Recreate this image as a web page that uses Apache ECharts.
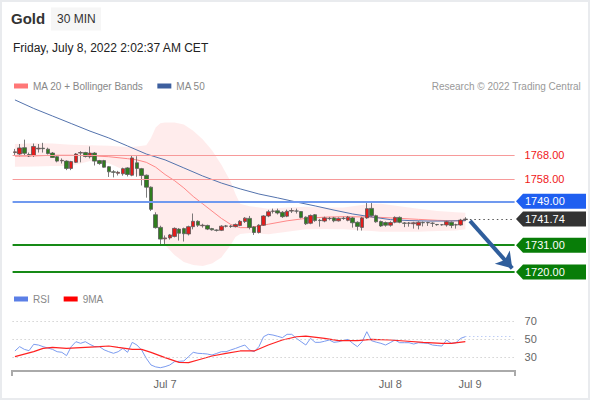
<!DOCTYPE html>
<html><head><meta charset="utf-8">
<script src="https://cdn.jsdelivr.net/npm/echarts@6/dist/echarts.min.js"></script>
<style>html,body{margin:0;padding:0;background:#fff}#c{width:590px;height:400px}</style>
</head><body><div id="c"></div>
<script>
// ---- Data ----
const opens = [1769.0,1768.4,1771.0,1768.2,1767.8,1770.5,1770.8,1770.4,1768.8,1767.3,1765.6,1765.5,1762.5,1765.0,1768.8,1769.0,1767.3,1768.8,1765.7,1765.7,1763.2,1761.1,1760.5,1760.3,1762.7,1759.7,1764.8,1762.4,1759.7,1754.8,1743.5,1738.3,1733.6,1734.0,1734.6,1737.6,1737.8,1735.6,1738.6,1740.8,1739.0,1739.1,1737.8,1737.2,1737.1,1738.8,1738.8,1738.6,1739.1,1740.7,1742.0,1738.5,1736.2,1739.2,1743.0,1744.9,1745.1,1744.5,1742.9,1745.0,1745.0,1744.8,1742.5,1740.0,1743.5,1741.2,1740.9,1741.9,1742.2,1741.0,1742.0,1741.2,1742.2,1740.4,1738.3,1742.2,1746.1,1743.1,1740.7,1740.3,1739.2,1740.4,1742.4,1740.1,1740.0,1739.8,1739.2,1740.3,1740.2,1740.0,1739.5,1739.4,1739.3,1740.4,1739.3,1739.3,1741.5];
const closes = [1769.3,1770.9,1768.7,1767.6,1771.5,1770.8,1770.6,1768.6,1767.0,1765.5,1765.8,1762.5,1765.3,1768.4,1769.0,1767.4,1768.8,1765.5,1764.5,1763.0,1761.1,1760.9,1760.9,1762.4,1760.0,1766.8,1762.5,1759.6,1754.8,1745.7,1738.2,1733.5,1734.0,1735.2,1737.9,1735.9,1735.7,1738.6,1740.8,1739.2,1739.2,1737.6,1737.3,1737.1,1738.8,1738.9,1738.7,1739.5,1740.8,1742.1,1738.3,1736.2,1739.2,1743.0,1744.7,1745.0,1744.2,1742.7,1744.9,1745.2,1745.0,1742.4,1739.8,1743.2,1741.1,1741.1,1742.2,1742.0,1741.0,1742.0,1742.0,1742.5,1740.2,1738.7,1742.2,1746.0,1743.1,1740.6,1738.9,1739.2,1740.3,1742.4,1740.4,1740.0,1740.1,1740.2,1740.4,1740.2,1740.3,1740.0,1739.4,1739.4,1740.6,1739.1,1739.4,1741.3,1741.74];
const lows = [1767.8,1767.5,1767.8,1767.2,1767.2,1769.0,1769.0,1768.2,1766.8,1765.0,1764.5,1761.8,1761.8,1764.7,1765.0,1767.0,1766.6,1763.7,1764.0,1762.8,1759.0,1758.8,1759.6,1759.5,1759.2,1759.3,1759.1,1755.5,1750.5,1745.0,1737.8,1731.2,1731.0,1733.3,1734.2,1732.9,1732.5,1735.0,1737.5,1738.5,1738.2,1737.2,1737.0,1736.6,1736.8,1738.3,1738.1,1738.3,1738.8,1740.1,1737.5,1735.2,1735.8,1738.9,1742.5,1744.0,1743.6,1742.2,1742.5,1744.2,1744.0,1742.0,1739.3,1739.6,1740.6,1738.6,1740.4,1741.2,1740.4,1740.7,1741.4,1740.8,1738.2,1737.0,1737.0,1741.8,1742.7,1740.2,1738.5,1738.6,1738.6,1740.0,1740.0,1738.4,1738.6,1737.8,1737.5,1738.7,1738.9,1738.5,1739.0,1739.0,1738.6,1738.0,1737.8,1739.0,1741.0];
const highs = [1770.5,1772.5,1774.3,1769.0,1772.7,1772.5,1773.0,1771.0,1769.2,1768.0,1766.6,1765.8,1765.6,1768.8,1769.6,1769.3,1771.5,1769.2,1766.0,1766.0,1763.5,1761.8,1761.5,1762.8,1763.0,1767.8,1767.5,1762.7,1760.0,1755.1,1744.5,1739.0,1735.0,1735.6,1738.3,1738.0,1738.2,1739.0,1744.0,1741.2,1739.8,1739.4,1738.1,1737.5,1739.2,1739.3,1739.3,1739.9,1741.3,1742.5,1743.0,1738.8,1739.6,1743.3,1745.5,1746.0,1746.0,1745.0,1745.6,1746.2,1746.0,1745.0,1742.8,1743.6,1743.8,1741.8,1742.7,1742.6,1742.6,1742.4,1742.7,1743.0,1742.6,1740.8,1742.6,1749.1,1748.9,1743.5,1741.1,1740.7,1740.8,1742.8,1742.8,1740.5,1740.5,1740.6,1740.8,1740.7,1740.6,1740.4,1739.7,1739.6,1741.0,1740.7,1739.8,1741.8,1742.5];

const bandIdx   = [0,4,8,12,16,20,24,26,28,29,30,31,32,34,36,38,40,42,44,46,47,48,50,54,58,62,66,70,74,76,78,82,86,90,94,96];
const bandUpper = [1772.5,1772.8,1772.7,1772.2,1772.0,1771.8,1771.3,1771.5,1772.0,1775.0,1779.3,1781.0,1781.3,1781.3,1780.5,1778.0,1774.5,1770.0,1764.0,1757.0,1752.0,1748.0,1747.0,1746.0,1746.5,1746.8,1746.5,1746.5,1747.5,1748.0,1748.0,1747.0,1746.0,1745.0,1744.5,1744.3];
const bandLower = [1763.2,1763.3,1763.5,1763.5,1765.5,1764.6,1761.2,1759.8,1756.4,1749.5,1742.2,1735.2,1731.1,1727.0,1724.1,1722.9,1722.5,1723.5,1726.0,1731.1,1734.4,1735.6,1736.0,1735.5,1736.5,1737.5,1737.6,1737.5,1737.0,1736.8,1736.5,1736.5,1736.5,1736.8,1737.0,1737.5];

const ma20Idx = [0,4,8,12,16,20,24,26,28,30,32,34,36,38,40,42,44,46,48,50,54,58,62,66,70,74,78,82,86,90,94,96];
const ma20Val = [1767.5,1767.6,1767.9,1767.9,1767.7,1767.3,1766.5,1766.0,1765.0,1763.0,1760.0,1757.5,1754.5,1751.0,1748.0,1745.0,1742.0,1739.5,1738.2,1738.2,1739.6,1741.0,1742.0,1742.5,1742.7,1742.6,1742.4,1742.0,1741.6,1741.2,1741.0,1741.0];

const ma50Idx = [0,4,8,12,16,20,24,28,32,36,40,44,48,52,56,60,64,68,72,76,80,84,88,92,96];
const ma50Val = [1790.6,1787.1,1784.0,1780.9,1777.8,1775.0,1771.7,1768.4,1766.0,1762.7,1759.4,1756.5,1754.1,1752.0,1750.4,1748.7,1747.1,1745.4,1743.8,1742.6,1741.5,1741.1,1740.9,1740.9,1741.1];

const rsi = [36.7,41.5,38.5,37,44.1,43.3,41.5,40,38.5,35.9,35.2,31.5,41.5,47,45.2,47,44,41.5,41.5,38,35.9,34.1,35.9,39.6,35.2,46.3,43.3,37.8,28.5,21.1,19,18.1,19.3,21.1,24.8,25.2,25.6,30.4,35.2,34.1,33.8,33.3,32.2,34,35.9,35.9,37.8,39.5,41.5,43.3,37.8,35.9,41.5,52.6,55.2,54.4,53,51.5,55.2,55.2,50.7,47,43.3,50.7,46.3,46.3,47.5,48.9,46.3,47,48.5,49.6,45.2,41.5,47,58.1,48.1,46.5,45.2,43.3,46,48.9,45.9,45.9,45.9,44.4,45.9,45.5,45.2,43.3,42.7,42.2,48.9,45.2,45.9,50.7,52.6];
const ma9Idx = [0,4,6,8,11,15,18,20,22,25,27,29,32,35,37,39,42,45,48,51,54,57,60,62,66,69,73,76,80,83,87,91,93,96];
const ma9Val = [30.4,35.9,39.6,40.7,39.6,40.7,41.5,42.2,40.7,38.5,38.5,35.2,29.3,24.1,23.7,26.7,31.1,34.1,36.7,36.7,43.3,48.9,52.5,53.3,50.7,48.1,48.1,49.6,48.9,47.8,46.3,45.2,45.2,47];

const tickIdx = [32, 80, 97];
const tickLabels = ['Jul 7', 'Jul 8', 'Jul 9'];
const levelsPlain = [1768, 1758];
const lastPrice = 1741.74;
const resistance = 1749, support1 = 1731, support2 = 1720;
const rsiLevels = [70, 50, 30];
const rsiLast = 52.6;
const nCats = 107;

// ---- Build ----
const FONT = "'Liberation Sans', Arial, sans-serif";
const cats = []; for (let i = 0; i < nCats; i++) cats.push(String(i));
const candles = opens.map((o, i) => [o, closes[i], lows[i], highs[i]]);
const pairs = (idx, vals) => idx.map((k, j) => [k, vals[j]]);
const bandLowData = pairs(bandIdx, bandLower);
const bandDiffData = bandIdx.map((k, j) => [k, +(bandUpper[j] - bandLower[j]).toFixed(2)]);

const chart = echarts.init(document.getElementById('c'), null, {renderer: 'svg'});
const GL = 12.6, GW = 502;
const legendText = {color: '#888', fontSize: 10, fontFamily: FONT};
const option = {
  animation: false,
  textStyle: {fontFamily: FONT},
  grid: [
    {left: GL, width: GW, top: 96.5, height: 185.25, outerBoundsMode: 'none', containLabel: false},
    {left: GL, width: GW, top: 307.5, height: 63, outerBoundsMode: 'none', containLabel: false}
  ],
  legend: [
    {data: ['MA 20 + Bollinger Bands', 'MA 50'], left: 14, top: 81, icon: 'rect', itemWidth: 14, itemHeight: 5, itemGap: 14, padding: 0, selectedMode: false, textStyle: legendText},
    {data: ['RSI', '9MA'], left: 14, top: 294, icon: 'rect', itemWidth: 14, itemHeight: 5, itemGap: 14, padding: 0, selectedMode: false, textStyle: legendText}
  ],
  xAxis: [
    {type: 'category', gridIndex: 0, data: cats, boundaryGap: true, show: false},
    {type: 'category', gridIndex: 1, data: cats, boundaryGap: true,
     axisLine: {lineStyle: {color: '#aaaaaa', width: 2}}, axisTick: {show: false},
     axisLabel: {interval: (i) => tickIdx.indexOf(i) >= 0, formatter: (v, i) => tickLabels[tickIdx.indexOf(+v)] || '', color: '#666', fontSize: 11, margin: 8, fontFamily: FONT}}
  ],
  yAxis: [
    {type: 'value', gridIndex: 0, min: 1716, max: 1792, show: false, splitLine: {show: false}},
    {type: 'value', gridIndex: 1, min: 15, max: 85, show: false, splitLine: {show: false}}
  ],
  series: [
    {type: 'line', name: 'bandLow', data: bandLowData, stack: 'band', symbol: 'none', lineStyle: {opacity: 0}, z: 1, silent: true},
    {type: 'line', name: 'bandFill', data: bandDiffData, stack: 'band', symbol: 'none', lineStyle: {opacity: 0}, areaStyle: {color: 'rgba(255,150,150,0.25)'}, z: 1, silent: true},
    {type: 'line', name: 'MA 20 + Bollinger Bands', data: pairs(ma20Idx, ma20Val), symbol: 'none', color: '#f77', lineStyle: {color: '#f88', width: 1}, z: 3},
    {type: 'line', name: 'MA 50', data: pairs(ma50Idx, ma50Val), symbol: 'none', color: '#3d5f9e', lineStyle: {color: '#5473ad', width: 1}, z: 3},
    {type: 'candlestick', name: 'Gold', data: candles, barWidth: 4, z: 4,
     itemStyle: {color: '#e41b1b', color0: '#2f7d1e', borderColor: '#5a5a5a', borderColor0: '#5a5a5a', borderWidth: 0.8},
     markLine: {silent: true, symbol: 'none', animation: false,
       data: [
         ...levelsPlain.map(v => ({yAxis: v, lineStyle: {color: '#f79a9a', width: 1.2, type: 'solid'},
            label: {show: true, position: 'end', distance: 10, formatter: v.toFixed(2), color: '#f01818', fontSize: 11, fontFamily: FONT}})),
         {yAxis: resistance, lineStyle: {color: '#7099ef', width: 2, type: 'solid'}, label: {show: false}},
         {yAxis: support1, lineStyle: {color: '#168a16', width: 2, type: 'solid'}, label: {show: false}},
         {yAxis: support2, lineStyle: {color: '#168a16', width: 2, type: 'solid'}, label: {show: false}},
         [{coord: ['96', lastPrice], lineStyle: {color: '#555', width: 1, type: [1.5, 3]}, label: {show: false}}, {coord: ['106', lastPrice]}],
         [{coord: ['97', 1741], symbol: 'none', lineStyle: {color: '#2f5e9c', width: 4, type: 'solid'}, label: {show: false}},
          {coord: ['106', 1721.5], symbol: 'arrow', symbolSize: [15, 15]}]
       ]}},
    {type: 'line', name: 'RSI', xAxisIndex: 1, yAxisIndex: 1, data: rsi, symbol: 'none', color: '#5b7fe6', lineStyle: {color: '#7c9cf0', width: 1}, z: 3,
     markLine: {silent: true, symbol: 'none', animation: false,
       data: [
         ...rsiLevels.map(v => ({yAxis: v, lineStyle: {color: '#bdbdbd', width: 1, type: [1, 3]},
            label: {show: true, position: 'end', distance: 10, formatter: String(v), color: '#666', fontSize: 11, fontFamily: FONT}})),
         [{coord: ['96', rsiLast], lineStyle: {color: '#9fb6f2', width: 1, type: [1, 3]}, label: {show: false}}, {coord: ['106', rsiLast]}]
       ]}},
    {type: 'line', name: '9MA', xAxisIndex: 1, yAxisIndex: 1, data: pairs(ma9Idx, ma9Val), symbol: 'none', color: '#ff0000', lineStyle: {color: '#f22', width: 1.2}, z: 3}
  ]
};
chart.setOption(option);

// label boxes positioned through the price scale
const py = v => chart.convertToPixel({xAxisIndex: 0, yAxisIndex: 0}, ['0', v])[1];
const boxes = [
  {v: resistance, t: resistance.toFixed(2), c: '#1f5ff0'},
  {v: lastPrice, t: lastPrice.toFixed(2), c: '#333333'},
  {v: support1, t: support1.toFixed(2), c: '#087d08'},
  {v: support2, t: support2.toFixed(2), c: '#087d08'}
];
const gfx = [
  {type: 'rect', shape: {x: 1, y: 1, width: 588, height: 398}, style: {fill: 'none', stroke: '#e9ebee', lineWidth: 2}, silent: true},
  {type: 'text', left: 11, top: 11, style: {text: 'Gold', font: "bold 15px " + FONT, fill: '#333'}},
  {type: 'rect', shape: {x: 51, y: 7.5, width: 50, height: 23}, style: {fill: '#f6f6f6'}},
  {type: 'text', left: 57, top: 13, style: {text: '30 MIN', font: "12px " + FONT, fill: '#333'}},
  {type: 'text', left: 13, top: 42, style: {text: 'Friday, July 8, 2022 2:02:37 AM CET', font: "12px " + FONT, fill: '#222'}},
  {type: 'text', right: 9, top: 81, style: {text: 'Research © 2022 Trading Central', font: "10px " + FONT, fill: '#999'}},
  {type: 'line', shape: {x1: 12, y1: 370, x2: 12, y2: 376}, style: {stroke: '#aaaaaa', lineWidth: 2}},
  {type: 'line', shape: {x1: 515, y1: 370, x2: 515, y2: 376}, style: {stroke: '#aaaaaa', lineWidth: 2}}
];
boxes.forEach(b => {
  const y = py(b.v);
  gfx.push({type: 'polygon', shape: {points: [[516, y], [523, y - 7.5], [586, y - 7.5], [586, y + 7.5], [523, y + 7.5]]}, style: {fill: b.c}, z: 10});
  gfx.push({type: 'text', x: 525, y: y, style: {text: b.t, font: "11px " + FONT, fill: '#fff', textVerticalAlign: 'middle'}, z: 11});
});
chart.setOption({graphic: gfx});
</script></body></html>
